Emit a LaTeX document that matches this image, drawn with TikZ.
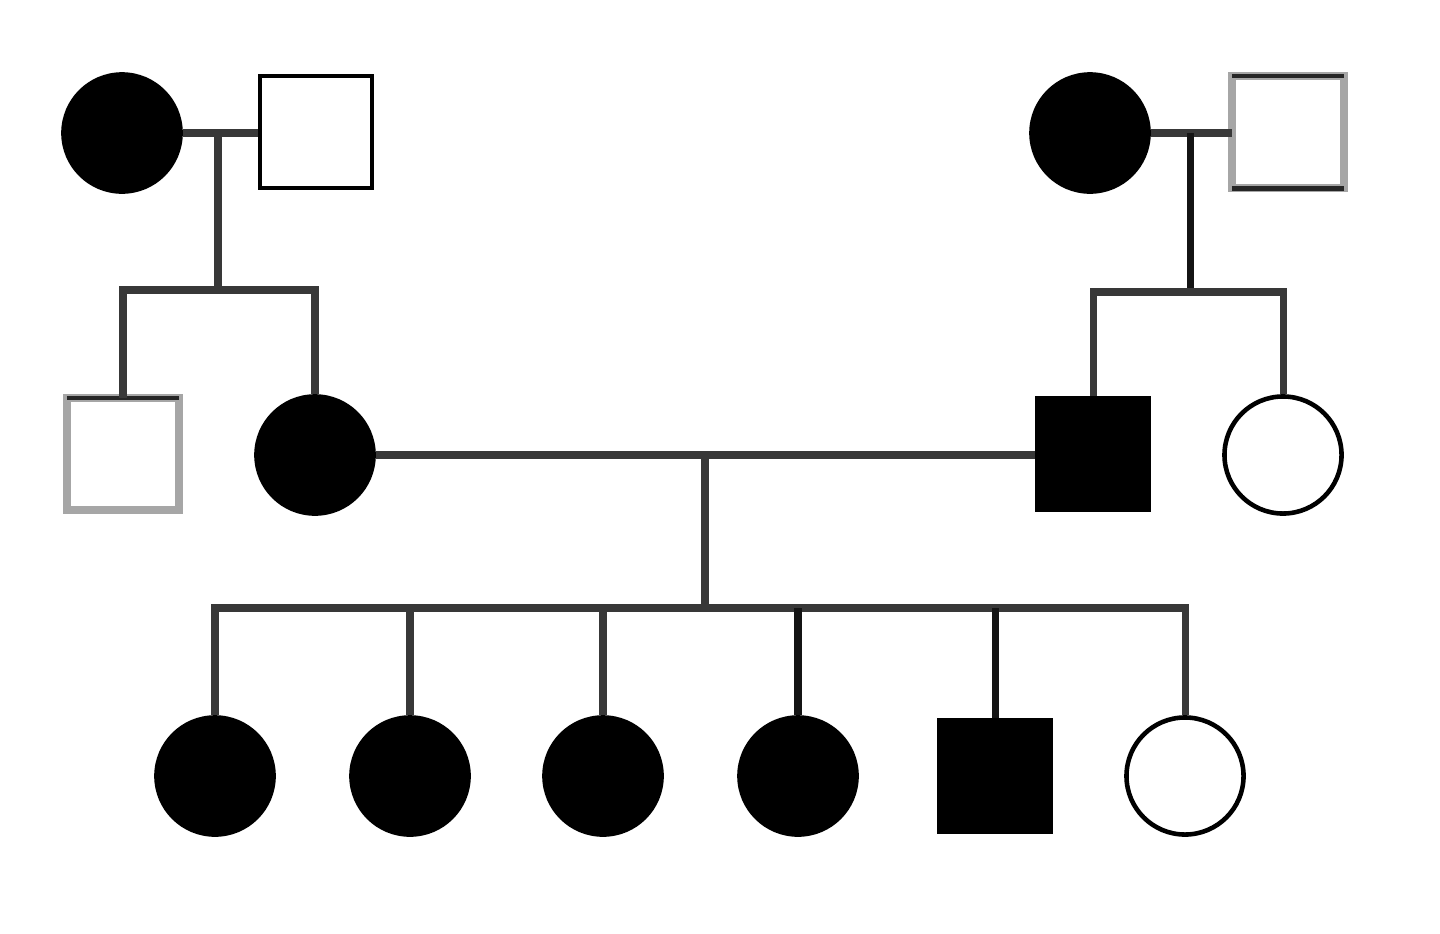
\documentclass[tikz,border=0pt]{standalone}
\begin{document}
\begin{tikzpicture}[x=0.01cm,y=-0.01cm,
  fem/.style={circle,draw=black,line width=1.3pt,minimum size=1.17cm,inner sep=0pt},
  mal/.style={rectangle,draw=black,line width=1.3pt,minimum size=1.12cm,inner sep=0pt},
  aff/.style={fill=black},
  unaff/.style={fill=white},
  graymal/.style={mal,fill=white,draw=black!35,line width=2.2pt,minimum size=1.12cm,outer sep=0pt},
  darkside/.style={draw=black!85,line width=1.4pt},
  link/.style={draw=black!78,line width=2pt}]
\useasboundingbox (0,0) rectangle (1440,933);
% generation I
\node[fem,aff] (g1a) at (122,133) {};
\node[mal,unaff] (g1b) at (316,132) {};
\node[fem,aff] (g1c) at (1090,133) {};
\node[graymal] (g1d) at (1288,132) {};
\draw[darkside] (g1d.north west) -- (g1d.north east);
\draw[darkside] (g1d.south west) -- (g1d.south east);
% generation II
\node[graymal] (g2a) at (123,454) {};
\draw[darkside] (g2a.north west) -- (g2a.north east);
\node[fem,aff] (g2b) at (315,455) {};
\node[mal,aff] (g2c) at (1093,454) {};
\node[fem,unaff] (g2d) at (1283,455) {};
% generation III
\node[fem,aff] (g3a) at (215,776) {};
\node[fem,aff] (g3b) at (410,776) {};
\node[fem,aff] (g3c) at (603,776) {};
\node[fem,aff] (g3d) at (798,776) {};
\node[mal,aff] (g3e) at (995,776) {};
\node[fem,unaff] (g3f) at (1185,776) {};
% junction coordinates
\coordinate (m1) at (218,133);
\coordinate (s1) at (218,290);
\coordinate (m2) at (1190,133);
\coordinate (s2) at (1190,292);
\coordinate (m3) at (705,455);
\coordinate (s3) at (705,608);
% connectors, left family
\draw[link] (g1a.east) -- (g1a.east -| g1b.west);
\draw[link] (m1) -- (s1);
\draw[link] (g2a.north) |- (s1) -| (g2b.north);
% right family
\draw[link] (g1c.east) -- (g1c.east -| g1d.west);
\draw[link,draw=black!92] (m2) -- (s2);
\draw[link] (g2c.north) |- (s2) -| (g2d.north);
% marriage generation II
\draw[link] (g2b.east) -- (g2b.east -| g2c.west);
\draw[link] (m3) -- (s3);
\draw[link] (g3a.north) |- (s3) -| (g3f.north);
\draw[link] (g3b.north) -- (g3b.north |- s3);
\draw[link] (g3c.north) -- (g3c.north |- s3);
\draw[link,draw=black!92] (g3d.north) -- (g3d.north |- s3);
\draw[link,draw=black!92] (g3e.north) -- (g3e.north |- s3);
\end{tikzpicture}
\end{document}
